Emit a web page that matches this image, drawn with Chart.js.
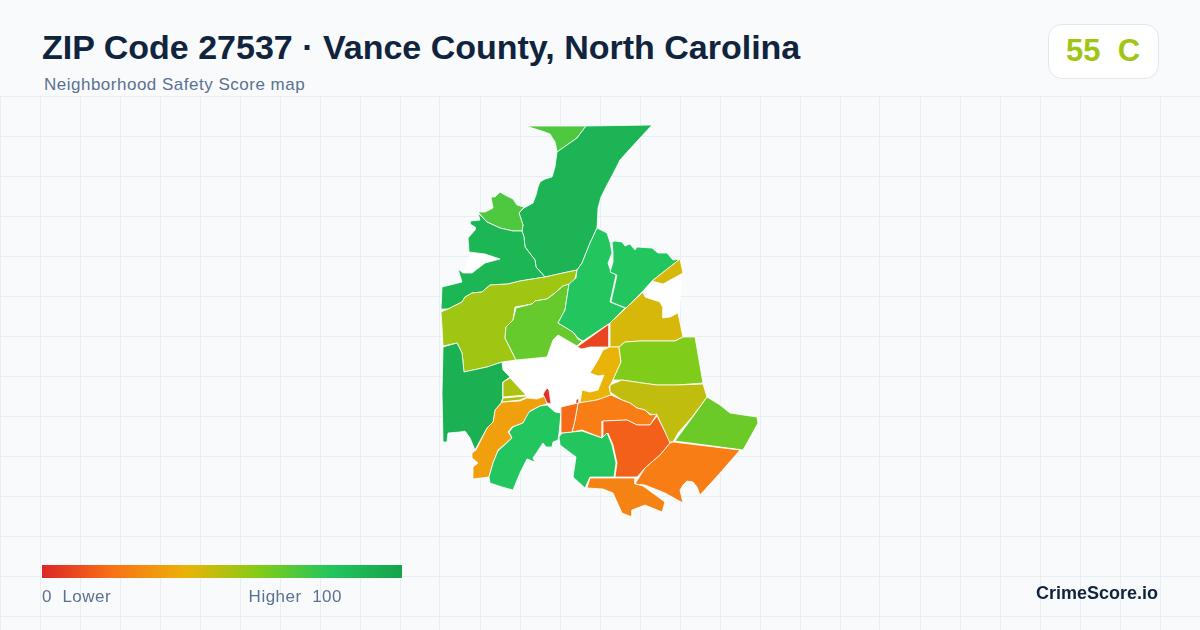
<!DOCTYPE html>
<html><head><meta charset="utf-8">
<script src="https://cdn.jsdelivr.net/npm/chart.js@4"></script>
<style>
html,body{margin:0;padding:0;width:1200px;height:630px;overflow:hidden;background:#f8fafc;font-family:"Liberation Sans",Arial,sans-serif}
#wrap{position:absolute;left:0;top:96px;width:1200px;height:534px}
.t{position:absolute;white-space:pre}
#title{left:42px;top:27px;font-size:34px;line-height:40px;font-weight:700;color:#10243e}
#sub{left:44px;top:75px;font-size:17px;line-height:20px;color:#5b7190;letter-spacing:.5px}
#badge{position:absolute;left:1048px;top:24px;width:109px;height:53px;background:#fff;border:1px solid #e2e8f0;border-radius:14px}
#grade{left:1066px;top:33px;font-size:31px;line-height:36px;font-weight:700}
#bar{position:absolute;left:42px;top:565px;width:360px;height:13px}
#lo{left:42px;top:587px;font-size:17px;line-height:20px;color:#5b7190;letter-spacing:.5px}
#hi{right:858px;top:587px;font-size:17px;line-height:20px;color:#5b7190;letter-spacing:.5px}
#brand{right:42px;top:582px;font-size:18px;line-height:22px;font-weight:700;color:#10243e}
</style></head><body>
<div id="wrap"><canvas id="c" width="1200" height="534"></canvas></div>
<div class="t" id="title"></div>
<div class="t" id="sub"></div>
<div id="badge"></div>
<div class="t" id="grade"></div>
<div id="bar"></div>
<div class="t" id="lo"></div>
<div class="t" id="hi"></div>
<div class="t" id="brand"></div>
<script>
const titleText = "ZIP Code 27537 · Vance County, North Carolina";
const subtitleText = "Neighborhood Safety Score map";
const overallScore = 55;
const overallGrade = "C";
const legendLow = "0  Lower";
const legendHigh = "Higher  100";
const brandText = "CrimeScore.io";

const rampStops = [0, 20, 40, 60, 80, 100];
const rampColors = ["#dc2626", "#f97316", "#eab308", "#84cc16", "#22c55e", "#16a34a"];

// Zone outlines, in map units
const noDataCentre = [[503,368],[516,360],[547,357],[553,340],[558,335],[577,346],[590,347],[607,347],[603,350],[598,360],[590,373],[598,376],[604,375],[598,390],[590,392],[582,390],[580,403],[577,404],[561,407],[558,412],[555,412],[547,405],[545,396],[536,399],[527,395],[510,378]];
const noDataEast = [[651,282],[663,284],[682,273],[680,313],[670,317],[663,318],[663,308],[660,302],[645,297]];
const noDataWest = [[470,254],[485,254],[500,259],[485,263],[472,273],[463,273]];
const northTip = [[527,126],[586,126],[577,138],[557,152],[556,146],[555,142],[550,134],[542,131],[532,128]];
const northMain = [[586,126],[652,125],[640,138],[628,151],[620,160],[614,172],[607,185],[601,197],[598,208],[597,228],[590,243],[582,263],[577,270],[563,273],[545,277],[536,267],[535,260],[525,247],[524,237],[522,231],[523,225],[519,213],[524,208],[533,203],[536,195],[538,187],[540,182],[545,179],[552,177],[555,167],[557,152],[577,138]];
const northWest = [[478,212],[487,222],[500,228],[513,231],[522,231],[523,225],[519,213],[524,207],[517,205],[513,199],[505,195],[500,192],[495,197],[491,197],[493,208],[485,212]];
const westUpper = [[478,213],[480,220],[470,221],[470,224],[475,227],[475,230],[468,238],[469,252],[485,254],[500,259],[485,263],[472,273],[463,273],[458,269],[462,282],[442,287],[441,309],[448,309],[462,302],[465,297],[472,293],[482,292],[490,285],[508,284],[520,281],[545,277],[536,267],[535,260],[525,247],[524,237],[522,231],[513,231],[500,228],[487,222]];
const westOlive = [[441,312],[448,309],[462,302],[465,297],[472,293],[482,292],[490,285],[508,284],[520,281],[545,277],[563,273],[577,270],[575,279],[570,284],[563,286],[555,293],[547,299],[535,301],[532,304],[515,307],[513,320],[506,327],[505,338],[516,360],[502,362],[487,367],[464,372],[462,353],[457,343],[443,346],[442,327]];
const midLime = [[516,308],[532,304],[535,301],[547,299],[555,293],[563,286],[569,284],[565,310],[558,323],[573,332],[578,339],[582,341],[577,346],[558,335],[553,340],[547,357],[516,360],[505,338],[506,327],[513,320]];
const centreNorth = [[597,228],[607,233],[610,242],[612,253],[608,263],[611,272],[616,275],[610,302],[625,308],[610,323],[583,341],[578,338],[573,332],[558,323],[565,310],[569,284],[576,278],[577,270],[582,263],[590,243]];
const northEast = [[612,242],[615,241],[622,242],[625,246],[630,244],[635,250],[637,247],[652,248],[658,253],[667,253],[673,260],[680,259],[652,281],[651,282],[643,291],[626,308],[611,302],[617,275],[610,272],[613,262],[613,252]];
const eastSliver = [[652,281],[680,259],[683,273],[663,284]];
const eastYellow = [[610,323],[643,292],[645,297],[660,302],[663,308],[663,318],[670,317],[678,313],[683,337],[675,341],[640,341],[625,342],[619,347],[610,347]];
const redSliver = [[577,347],[609,324],[609,347],[590,347],[582,349]];
const goldBend = [[610,347],[619,347],[621,362],[613,380],[609,387],[611,395],[597,400],[580,403],[582,390],[590,392],[598,390],[604,375],[598,376],[590,373],[598,360],[603,350]];
const eastLime = [[619,347],[625,342],[640,341],[675,341],[683,337],[695,337],[703,383],[677,385],[657,385],[642,383],[622,380],[613,380],[621,362]];
const eastOlive = [[610,385],[622,380],[642,383],[657,385],[677,385],[703,384],[707,397],[692,417],[678,433],[673,442],[669,442],[665,432],[657,415],[650,414],[645,410],[637,408],[630,403],[622,400],[610,392]];
const southEastLime = [[675,441],[692,418],[707,397],[720,405],[730,413],[757,417],[758,423],[747,443],[743,450]];
const southOrange = [[578,403],[597,400],[611,395],[622,400],[630,403],[637,408],[645,410],[650,415],[657,414],[650,425],[637,425],[627,420],[603,421],[602,438],[582,430],[572,432],[575,420]];
const darkOrange = [[603,421],[627,420],[637,425],[650,425],[657,416],[665,432],[670,443],[660,455],[645,468],[637,477],[615,477],[617,463],[613,445],[608,433],[602,438]];
const southEastOrange = [[673,442],[740,450],[720,473],[700,495],[697,487],[693,482],[687,481],[683,485],[680,490],[683,503],[665,493],[645,485],[635,484],[645,468],[660,455],[670,443]];
const bottomOrange = [[590,478],[635,478],[635,484],[643,486],[665,502],[662,512],[645,505],[632,510],[632,517],[622,513],[613,493],[603,489],[587,488]];
const southGreen = [[559,437],[562,433],[582,431],[602,438],[607,433],[612,445],[616,463],[614,477],[590,477],[585,488],[573,477],[576,457],[560,445]];
const southWestOrange = [[502,402],[520,401],[527,398],[537,399],[545,396],[547,404],[540,406],[530,411],[523,423],[512,427],[508,432],[512,438],[498,450],[493,463],[489,477],[473,479],[473,467],[478,463],[472,458],[472,453],[476,450],[487,428],[493,422],[495,410]];
const southWestGreen = [[498,451],[512,438],[509,432],[513,427],[523,423],[529,412],[540,406],[547,405],[555,412],[561,413],[559,433],[558,440],[553,442],[552,447],[546,447],[543,443],[533,458],[535,462],[527,459],[520,473],[513,490],[502,487],[490,483],[489,477],[493,463]];
const westDark = [[443,347],[457,343],[462,353],[464,372],[487,367],[502,362],[503,370],[510,377],[503,382],[503,397],[501,403],[495,410],[493,422],[487,428],[475,450],[470,438],[465,431],[460,432],[448,433],[447,442],[443,442],[442,393]];
const oliveUpper = [[503,382],[510,378],[526,395],[503,397]];
const oliveStrip = [[503,398],[526,396],[527,397],[520,400],[502,402]];
const tinyRedWest = [[543,394],[547,388],[549,390],[551,404],[547,403]];
const tinyRedEast = [[576,400],[579,398],[579,403],[576,404]];
const orangeWedge = [[561,407],[578,403],[575,420],[572,432],[561,433]];

const zoneShapes = [noDataCentre,noDataEast,noDataWest,northTip,northMain,northWest,westUpper,westOlive,midLime,centreNorth,northEast,eastSliver,eastYellow,redSliver,goldBend,eastLime,eastOlive,southEastLime,southOrange,darkOrange,southEastOrange,bottomOrange,southGreen,southWestOrange,southWestGreen,westDark,oliveUpper,oliveStrip,tinyRedWest,tinyRedEast,orangeWedge];
const zoneScores = [null,null,null,71,90,71,89,55,66,80,80,44,44,8,40,61,48,65,23,15,23,25,80,34,80,92,52,52,3,6,18];

function hexRgb(h){return [1,3,5].map(i=>parseInt(h.substr(i,2),16));}
function scoreColor(v){
  if(v===null) return "#ffffff";
  for(let i=1;i<rampStops.length;i++){
    if(v<=rampStops[i]){
      const f=(v-rampStops[i-1])/(rampStops[i]-rampStops[i-1]);
      const a=hexRgb(rampColors[i-1]),b=hexRgb(rampColors[i]);
      return "rgb("+a.map((c,k)=>Math.round(c+(b[k]-c)*f)).join(",")+")";
    }
  }
  return rampColors[rampColors.length-1];
}

document.getElementById("title").textContent=titleText;
document.getElementById("sub").textContent=subtitleText;
const grade=document.getElementById("grade");
grade.textContent=overallScore+"  "+overallGrade;
grade.style.color=scoreColor(overallScore);
document.getElementById("lo").textContent=legendLow;
document.getElementById("hi").textContent=legendHigh;
document.getElementById("brand").textContent=brandText;
document.getElementById("bar").style.background="linear-gradient(to right,"+rampColors.map((c,i)=>c+" "+rampStops[i]+"%").join(",")+")";

const datasets=zoneShapes.map((shape,i)=>{
  const closed=shape.concat([shape[0]]);
  return {
    data:closed.map(p=>({x:p[0],y:p[1]})),
    showLine:true,
    fill:"shape",
    tension:0,
    backgroundColor:scoreColor(zoneScores[i]),
    borderColor:zoneScores[i]===null?"rgba(255,255,255,0)":"#ffffff",
    borderWidth:zoneScores[i]===null?0:0.8,
    pointRadius:0,
    pointHoverRadius:0,
    order:zoneShapes.length-i
  };
});

new Chart(document.getElementById("c"),{
  type:"scatter",
  data:{datasets},
  options:{
    responsive:false,
    animation:false,
    layout:{padding:0},
    plugins:{legend:{display:false},tooltip:{enabled:false},title:{display:false}},
    scales:{
      x:{type:"linear",min:0,max:1200,display:true,border:{display:false},
         grid:{color:"#e7eff3",lineWidth:1,drawTicks:false},
         afterBuildTicks:s=>{s.ticks=[];for(let v=0;v<=1200;v+=40)s.ticks.push({value:v});},
         ticks:{display:false}},
      y:{type:"linear",min:96,max:630,reverse:true,display:true,border:{display:false},
         grid:{color:"#e7eff3",lineWidth:1,drawTicks:false},
         afterBuildTicks:s=>{s.ticks=[];for(let v=96;v<=630;v+=40)s.ticks.push({value:v});},
         ticks:{display:false}}
    }
  }
});
</script>
</body></html>
